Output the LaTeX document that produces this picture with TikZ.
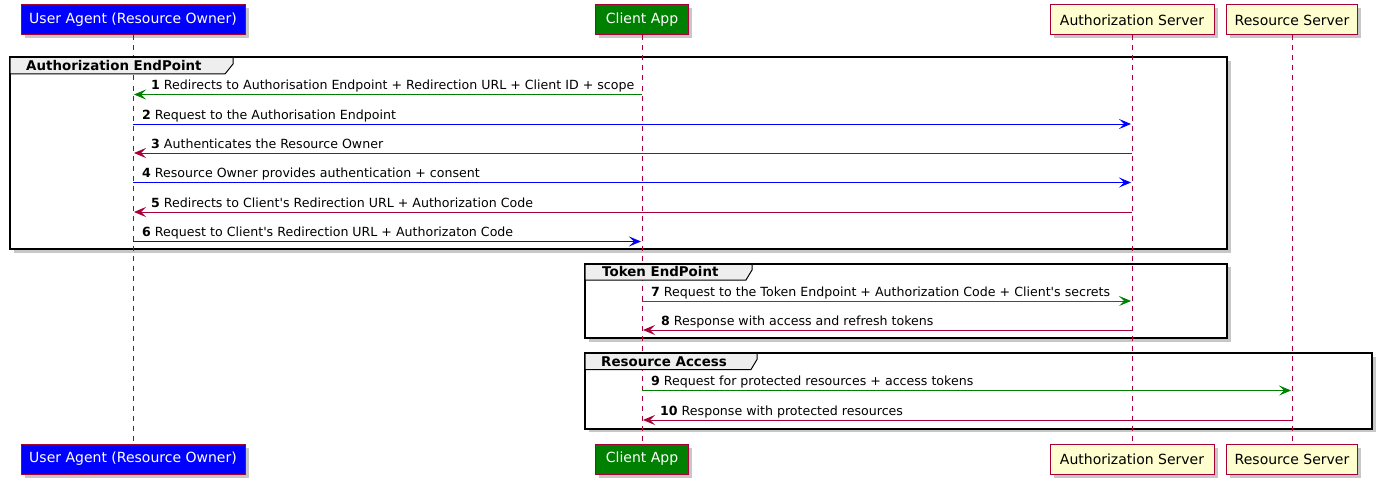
\documentclass[tikz,border=0pt]{standalone}
\usepackage{fontspec}
\setmainfont{DejaVu Sans}
\usetikzlibrary{arrows.meta,shadows}
\definecolor{pred}{HTML}{A80036}
\definecolor{pfill}{HTML}{FEFECE}
\definecolor{pgreen}{HTML}{008000}
\definecolor{pblue}{HTML}{0000FF}
\definecolor{tabfill}{HTML}{EEEEEE}
\newcommand{\ap}{\textquotesingle}
\begin{document}
\begin{tikzpicture}[x=1pt,y=-1pt,
  shad/.style={drop shadow={shadow xshift=3.5pt,shadow yshift=-3.5pt,fill=black,opacity=0.22}},
  part/.style={draw=pred,line width=1pt,minimum height=30pt,inner sep=0pt,
    font=\fontsize{14}{16}\selectfont,fill=pfill,text=black,shad},
  partB/.style={part,fill=pblue,text=white},
  partG/.style={part,fill=pgreen,text=white},
  life/.style={draw=pred,line width=0.8pt,dash pattern=on 5pt off 5pt},
  grp/.style={draw=black,line width=2pt,fill=white,shad},
  tab/.style={draw=black,line width=1pt,fill=tabfill},
  glbl/.style={font=\bfseries\fontsize{13.4}{15}\selectfont,anchor=base west,inner sep=0pt},
  msg/.style={line width=0.9pt,-{Stealth[length=12pt,width=10pt,inset=5pt]},shorten >=1pt},
  lbl/.style={font=\fontsize{12.6}{15}\selectfont,anchor=base west,inner sep=0pt},
]
\useasboundingbox (0,0) rectangle (1384,487);

% group bodies
\draw[grp] (10,57.5) rectangle (1227,249);
\draw[grp] (585,263.5) rectangle (1227,338);
\draw[grp] (585,353) rectangle (1372,428.5);

% participants
\node[partB,minimum width=224pt] (ua) at (133,20) {User Agent (Resource Owner)};
\node[partG,minimum width=93pt] (ca) at (642,20) {Client App};
\node[part,minimum width=164pt] (as) at (1132,20) {Authorization Server};
\node[part,minimum width=131pt] (rs) at (1292,20) {Resource Server};

\node[partB,minimum width=224pt] (ua2) at (133,459) {User Agent (Resource Owner)};
\node[partG,minimum width=93pt] (ca2) at (642,459) {Client App};
\node[part,minimum width=164pt] (as2) at (1132,459) {Authorization Server};
\node[part,minimum width=131pt] (rs2) at (1292,459) {Resource Server};

% lifelines
\draw[life] (ua.south) -- (ua2.north);
\draw[life] (ca.south) -- (ca2.north);
\draw[life] (as.south) -- (as2.north);
\draw[life] (rs.south) -- (rs2.north);

% group tabs and labels
\draw[tab] (10,74) -- (225,74) -- (233,64) -- (233,57.5) -- (10,57.5) -- cycle;
\draw[black,line width=2pt] (10,57.5) -- (233,57.5);
\node[glbl] (g1) at (26,70.5) {Authorization EndPoint};

\draw[tab] (585,280) -- (746,280) -- (752,270) -- (752,263.5) -- (585,263.5) -- cycle;
\draw[black,line width=2pt] (585,263.5) -- (752,263.5);
\node[glbl] (g2) at (602,276.5) {Token EndPoint};

\draw[tab] (585,369.5) -- (751,369.5) -- (757,359.5) -- (757,353) -- (585,353) -- cycle;
\draw[black,line width=2pt] (585,353) -- (757,353);
\node[glbl] (g3) at (601,366) {Resource Access};

% messages
\draw[msg,pgreen] (ca |- 0,94.5) -- (ua |- 0,94.5);
\node[lbl] (m1) at (151,89.5) {\textbf{1} Redirects to Authorisation Endpoint + Redirection URL + Client ID + scope};

\draw[msg,pblue] (ua |- 0,124) -- (as |- 0,124);
\node[lbl] (m2) at (142,119) {\textbf{2} Request to the Authorisation Endpoint};

\draw[msg,pred] (as |- 0,153) -- (ua |- 0,153);
\node[lbl] (m3) at (151,148) {\textbf{3} Authenticates the Resource Owner};

\draw[msg,pblue] (ua |- 0,182.5) -- (as |- 0,182.5);
\node[lbl] (m4) at (142,177.5) {\textbf{4} Resource Owner provides authentication + consent};

\draw[msg,pred] (as |- 0,212) -- (ua |- 0,212);
\node[lbl] (m5) at (151,207) {\textbf{5} Redirects to Client\ap s Redirection URL + Authorization Code};

\draw[msg,pblue] (ua |- 0,241.5) -- (ca |- 0,241.5);
\node[lbl] (m6) at (142,236.5) {\textbf{6} Request to Client\ap s Redirection URL + Authorizaton Code};

\draw[msg,pgreen] (ca |- 0,301) -- (as |- 0,301);
\node[lbl] (m7) at (651,296) {\textbf{7} Request to the Token Endpoint + Authorization Code + Client\ap s secrets};

\draw[msg,pred] (as |- 0,330) -- (ca |- 0,330);
\node[lbl] (m8) at (661,325) {\textbf{8} Response with access and refresh tokens};

\draw[msg,pgreen] (ca |- 0,390.5) -- (rs |- 0,390.5);
\node[lbl] (m9) at (651,385.5) {\textbf{9} Request for protected resources + access tokens};

\draw[msg,pred] (rs |- 0,420) -- (ca |- 0,420);
\node[lbl] (m10) at (660,415) {\textbf{10} Response with protected resources};
\end{tikzpicture}
\end{document}
